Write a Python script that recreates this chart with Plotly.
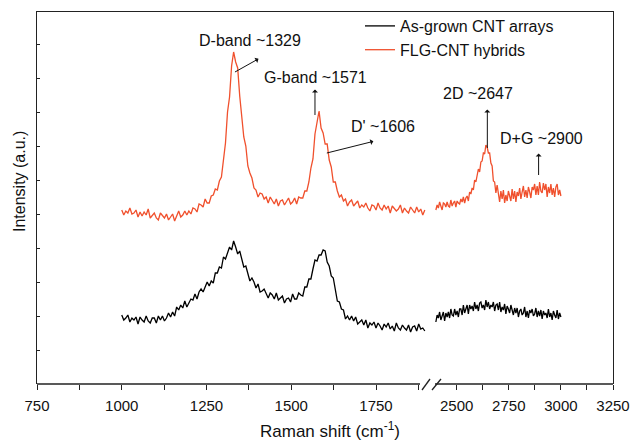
import plotly.graph_objects as go

# ---------------- data ----------------
wn_left = list(range(1000, 1897, 6))    # Raman shift, cm-1 (first segment)
wn_right = list(range(2400, 3001, 6))   # Raman shift, cm-1 (second segment)

flg_left = [
    174, 169, 173, 171, 176, 170, 171, 174, 167, 172, 168, 172, 169, 175, 166, 169,
    171, 166, 164, 171, 168, 166, 170, 164, 167, 170, 163, 169, 173, 167, 169, 173,
    169, 173, 170, 176, 175, 172, 180, 179, 177, 185, 181, 181, 188, 189, 195, 194,
    203, 207, 227, 241, 272, 287, 318, 332, 322, 316, 288, 270, 247, 238, 218, 211,
    206, 196, 194, 187, 191, 190, 185, 187, 181, 187, 183, 180, 185, 178, 183, 184,
    179, 183, 186, 180, 182, 186, 180, 187, 186, 186, 193, 193, 202, 216, 225, 250,
    261, 273, 256, 251, 240, 240, 224, 217, 202, 202, 193, 187, 189, 183, 185, 178,
    182, 184, 178, 180, 183, 176, 179, 177, 181, 176, 173, 179, 178, 174, 181, 176,
    174, 179, 175, 178, 171, 178, 176, 173, 175, 179, 171, 176, 173, 171, 177, 174,
    171, 177, 172, 175, 169, 174,
]
flg_right = [
    174, 179, 176, 182, 178, 174, 181, 180, 177, 182, 178, 177, 184, 178, 181, 183,
    177, 183, 181, 180, 185, 182, 187, 181, 186, 188, 183, 192, 190, 196, 194, 204,
    202, 209, 215, 212, 222, 223, 231, 230, 239, 237, 231, 231, 221, 218, 203, 202,
    191, 199, 188, 182, 193, 185, 194, 181, 189, 183, 193, 186, 183, 195, 185, 193,
    182, 192, 188, 196, 185, 192, 198, 187, 194, 186, 197, 192, 186, 197, 194, 200,
    189, 198, 189, 202, 193, 191, 201, 194, 200, 187, 197, 191, 200, 189, 196, 187,
    197, 200, 189, 194, 188,
]
cnt_left = [
    69, 64, 66, 69, 62, 66, 64, 67, 60, 67, 64, 62, 68, 63, 61, 66,
    66, 61, 68, 64, 68, 63, 66, 71, 67, 72, 68, 77, 74, 79, 76, 83,
    77, 81, 85, 84, 90, 85, 92, 95, 92, 97, 102, 98, 103, 101, 111, 111,
    117, 116, 127, 125, 131, 137, 134, 143, 137, 130, 133, 124, 117, 118, 110, 103,
    106, 102, 96, 100, 92, 93, 95, 90, 86, 91, 89, 85, 91, 84, 86, 88,
    81, 85, 86, 82, 90, 85, 85, 91, 89, 88, 97, 97, 105, 105, 115, 124,
    123, 129, 129, 134, 133, 122, 118, 108, 106, 92, 83, 82, 75, 74, 65, 68,
    64, 68, 63, 67, 60, 62, 64, 59, 64, 56, 61, 59, 62, 56, 61, 58,
    54, 60, 57, 61, 55, 58, 53, 61, 56, 54, 59, 56, 54, 59, 52, 57,
    58, 53, 60, 55, 56, 53,
]
cnt_right = [
    62, 69, 66, 72, 64, 68, 72, 63, 71, 67, 72, 66, 75, 69, 68, 75,
    69, 73, 67, 75, 75, 69, 79, 71, 75, 79, 70, 79, 75, 78, 73, 82,
    75, 79, 73, 81, 82, 76, 79, 74, 84, 77, 82, 75, 79, 77, 82, 73,
    79, 80, 74, 82, 72, 77, 74, 80, 70, 78, 75, 71, 79, 73, 69, 76,
    71, 76, 67, 73, 75, 69, 71, 77, 67, 73, 66, 74, 71, 75, 68, 70,
    76, 67, 73, 68, 74, 65, 73, 69, 71, 66, 75, 67, 71, 64, 73, 69,
    66, 74, 65, 71, 67,
]
assert len(flg_left) == len(wn_left) == len(cnt_left)
assert len(flg_right) == len(wn_right) == len(cnt_right)

series_names = ["As-grown CNT arrays", "FLG-CNT hybrids"]
major_left = [750, 1000, 1250, 1500, 1750]
minor_left = [875, 1125, 1375, 1625, 1875]
major_right = [2500, 2750, 3000, 3250]
minor_right = [2625, 2875, 3125]
ytick_vals = [34, 68, 102, 136, 170, 204, 238, 272, 306, 340]

peak_labels = ["D-band ~1329", "G-band ~1571", "D' ~1606", "2D ~2647", "D+G ~2900"]

# ---------------- geometry ----------------
W, H = 632, 441
L, R, T, B = 37, 19, 12, 57
PW, PH = W - L - R, H - T - B
def px(x):  # pixel -> paper x
    return (x - L) / PW
def py(y):  # pixel -> paper y
    return (H - B - y) / PH

RED = "#F0502D"
BLACK = "#000000"
LINEC = "#222222"
FONT = "Liberation Sans, Arial, Helvetica, sans-serif"

fig = go.Figure()
fig.add_trace(go.Scatter(x=wn_left, y=cnt_left, mode="lines", name=series_names[0],
                         line=dict(color=BLACK, width=1.3), legendgroup="a", xaxis="x", yaxis="y"))
fig.add_trace(go.Scatter(x=wn_right, y=cnt_right, mode="lines", name=series_names[0],
                         line=dict(color=BLACK, width=1.3), legendgroup="a", showlegend=False,
                         xaxis="x2", yaxis="y"))
fig.add_trace(go.Scatter(x=wn_left, y=flg_left, mode="lines", name=series_names[1],
                         line=dict(color=RED, width=1.3), legendgroup="b", xaxis="x", yaxis="y"))
fig.add_trace(go.Scatter(x=wn_right, y=flg_right, mode="lines", name=series_names[1],
                         line=dict(color=RED, width=1.3), legendgroup="b", showlegend=False,
                         xaxis="x2", yaxis="y"))
# invisible helpers so the frame axes exist
fig.add_trace(go.Scatter(x=[None], y=[None], xaxis="x3", yaxis="y", showlegend=False,
                         hoverinfo="skip"))
fig.add_trace(go.Scatter(x=[None], y=[None], xaxis="x2", yaxis="y2", showlegend=False,
                         hoverinfo="skip"))

tick_common = dict(ticks="outside", ticklen=5, tickwidth=1, tickcolor=LINEC,
                   showgrid=False, zeroline=False, showline=False, automargin=False,
                   ticklabelstandoff=3,
                   tickfont=dict(family=FONT, size=15, color="#111"))
lt = sorted(major_left + minor_left)
rt = sorted(major_right + minor_right)
fig.update_layout(
    width=W, height=H, autosize=False,
    margin=dict(l=L, r=R, t=T, b=B, pad=0, autoexpand=False),
    paper_bgcolor="white", plot_bgcolor="rgba(0,0,0,0)",
    font=dict(family=FONT, color="#111"),
    xaxis=dict(domain=[0, px(429)], range=[750, 750 + (429 - L) / 0.339],
               tickmode="array", tickvals=lt,
               ticktext=[str(v) if v in major_left else "" for v in lt], **tick_common),
    xaxis2=dict(domain=[px(432), 1], range=[2500 - (456.7 - 432) / 0.2084, 3250],
                anchor="y", tickmode="array", tickvals=rt,
                ticktext=[str(v) if v in major_right else "" for v in rt], **tick_common),
    xaxis3=dict(domain=[0, 1], range=[0, 1], anchor="y", side="top", showline=True,
                linecolor=LINEC, linewidth=1.3, ticks="", showticklabels=False,
                showgrid=False, zeroline=False, automargin=False),
    yaxis=dict(range=[0, PH], tickmode="array", tickvals=ytick_vals, showticklabels=False,
               ticks="inside", ticklen=3, tickcolor=LINEC, showgrid=False, automargin=False,
               zeroline=False, showline=True, linecolor=LINEC, linewidth=1.3),
    yaxis2=dict(range=[0, PH], overlaying="y", anchor="x2", side="right", showline=True,
                linecolor=LINEC, linewidth=1.3, ticks="", showticklabels=False,
                showgrid=False, zeroline=False, automargin=False),
    showlegend=True,
    legend=dict(x=px(360), y=py(9), xanchor="left", yanchor="top",
                bgcolor="rgba(0,0,0,0)", borderwidth=0,
                font=dict(family=FONT, size=16, color="#111"),
                itemwidth=30, tracegroupgap=0),
)

# broken bottom axis line and break marks
frame = dict(type="line", xref="paper", yref="paper", line=dict(color=LINEC, width=1.3))
shapes = [
    dict(frame, x0=0, x1=px(420), y0=0, y1=0),
    dict(frame, x0=px(435), x1=1, y0=0, y1=0),
    dict(frame, x0=px(422), x1=px(430), y0=py(390), y1=py(379)),
    dict(frame, x0=px(432), x1=px(441), y0=py(390), y1=py(379)),
]
fig.update_layout(shapes=shapes)

ann = []
label_px = [(250, 40), (315, 78), (383, 127), (478, 93), (541, 138)]
for text, (cx, cy) in zip(peak_labels, label_px):
    ann.append(dict(text=text, xref="paper", yref="paper", x=px(cx), y=py(cy),
                    xanchor="center", yanchor="middle", showarrow=False,
                    font=dict(family=FONT, size=16, color="#111")))
# arrows: tail on the curve (data coords), head offset in px
arrows = [
    ("x", 1334, 312, 25, -14),
    ("x", 1570, 269, 0, -27),
    ("x", 1605, 231, 48, -12),
    ("x2", 2647, 236, 0, -40),
    ("x2", 2893, 209, 0, -23),
]
for xr, x, y, dx, dy in arrows:
    ann.append(dict(text="", xref=xr, yref="y", x=x, y=y, ax=dx, ay=dy,
                    showarrow=True, arrowside="start", arrowhead=2, arrowsize=2,
                    arrowwidth=1, arrowcolor="#111", standoff=0, startstandoff=0))
ann.append(dict(text="Raman shift (cm<sup>-1</sup>)", xref="paper", yref="paper",
                x=px(330), y=py(430), xanchor="center", yanchor="middle", showarrow=False,
                font=dict(family=FONT, size=17, color="#111")))
ann.append(dict(text="Intensity (a.u.)", xref="paper", yref="paper",
                x=px(19), y=py(182), xanchor="center", yanchor="middle", showarrow=False,
                textangle=-90, font=dict(family=FONT, size=16, color="#111")))
fig.update_layout(annotations=ann)

fig.write_html("out.html", config={"responsive": False, "displayModeBar": False},
               post_script="document.body.style.margin='0';document.body.style.overflow='hidden';")
